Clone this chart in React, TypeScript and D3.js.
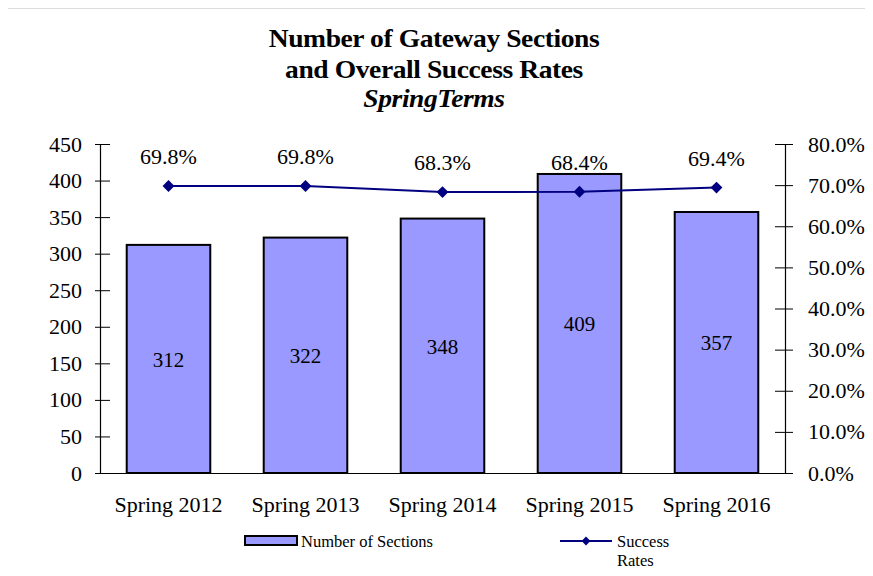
import { useEffect, useRef } from 'react';
import * as d3 from 'd3';

const terms = ['Spring 2012', 'Spring 2013', 'Spring 2014', 'Spring 2015', 'Spring 2016'];
const sections = [312, 322, 348, 409, 357];
const successRates = [69.8, 69.8, 68.3, 68.4, 69.4];
const leftTicks = [0, 50, 100, 150, 200, 250, 300, 350, 400, 450];
const rightTicks = [0, 10, 20, 30, 40, 50, 60, 70, 80];

const FONT = '"Liberation Serif", "Times New Roman", serif';

export default function App() {
  const svgRef = useRef<SVGSVGElement>(null);

  useEffect(() => {
    const width = 873;
    const height = 576;
    const svg = d3.select(svgRef.current);
    svg.selectAll('*').remove();
    svg.attr('width', width).attr('height', height);

    const left = 100, right = 785, top = 144, bottom = 473;

    // top rule
    svg.append('line')
      .attr('x1', 0).attr('x2', width).attr('y1', 8).attr('y2', 8)
      .attr('stroke', '#d0d0d0').attr('stroke-width', 1.5);

    // title
    const titles = [
      { t: 'Number of Gateway Sections', y: 47, italic: false },
      { t: 'and Overall Success Rates', y: 78, italic: false },
      { t: 'SpringTerms', y: 107, italic: true },
    ];
    titles.forEach(d => {
      svg.append('text')
        .attr('transform', `translate(434,${d.y}) scale(1.06,1)`)
        .attr('text-anchor', 'middle')
        .attr('font-family', FONT)
        .attr('font-size', 26)
        .attr('font-weight', 'bold')
        .attr('font-style', d.italic ? 'italic' : 'normal')
        .attr('letter-spacing', -0.4)
        .text(d.t);
    });

    const x = d3.scaleBand().domain(terms).range([left, right]).paddingInner(0.39).paddingOuter(0.195);
    const yL = d3.scaleLinear().domain([0, 450]).range([bottom, top]);
    const yR = d3.scaleLinear().domain([0, 80]).range([bottom, top]);

    // bars
    svg.append('g').selectAll('rect')
      .data(sections)
      .join('rect')
      .attr('x', (d, i) => x(terms[i])!)
      .attr('y', d => yL(d))
      .attr('width', x.bandwidth())
      .attr('height', d => bottom - yL(d))
      .attr('fill', '#9999ff')
      .attr('stroke', '#000')
      .attr('stroke-width', 2);

    // bar labels
    svg.append('g').selectAll('text')
      .data(sections)
      .join('text')
      .attr('x', (d, i) => x(terms[i])! + x.bandwidth() / 2)
      .attr('y', d => (yL(d) + bottom) / 2 + 8)
      .attr('text-anchor', 'middle')
      .attr('font-family', FONT)
      .attr('font-size', 21)
      .text(d => d);

    // left axis
    const leftAxis = svg.append('g').attr('transform', `translate(${left},0)`)
      .call(d3.axisLeft(yL).tickValues(leftTicks).tickSizeInner(0).tickSizeOuter(0).tickPadding(18));
    leftAxis.select('.domain').attr('stroke', '#000').attr('stroke-width', 1.2);
    leftAxis.selectAll('.tick line').attr('x1', -5).attr('x2', 10).attr('stroke', '#000');
    leftAxis.selectAll('.tick text').attr('font-family', FONT).attr('font-size', 22).attr('fill', '#000');

    // right axis
    const rightAxis = svg.append('g').attr('transform', `translate(${right},0)`)
      .call(d3.axisRight(yR).tickValues(rightTicks).tickSizeInner(0).tickSizeOuter(0).tickPadding(23)
        .tickFormat(d => `${(+d).toFixed(1)}%`));
    rightAxis.select('.domain').attr('stroke', '#000').attr('stroke-width', 1.2);
    rightAxis.selectAll('.tick line').attr('x1', -10).attr('x2', 8).attr('stroke', '#000');
    rightAxis.selectAll('.tick text').attr('font-family', FONT).attr('font-size', 22).attr('fill', '#000');

    // bottom axis
    const bottomAxis = svg.append('g').attr('transform', `translate(0,${bottom})`)
      .call(d3.axisBottom(x).tickSize(0).tickPadding(23));
    bottomAxis.select('.domain').attr('stroke', '#000').attr('stroke-width', 1.2);
    bottomAxis.selectAll('.tick text').attr('font-family', FONT).attr('font-size', 22).attr('fill', '#000');

    // success rate line
    const cx = (i: number) => x(terms[i])! + x.bandwidth() / 2;
    const line = d3.line<number>().x((d, i) => cx(i)).y(d => yR(d));
    svg.append('path')
      .datum(successRates)
      .attr('fill', 'none')
      .attr('stroke', '#000080')
      .attr('stroke-width', 2)
      .attr('d', line);

    const diamond = d3.symbol().type(d3.symbolDiamond2).size(90);
    svg.append('g').selectAll('path')
      .data(successRates)
      .join('path')
      .attr('transform', (d, i) => `translate(${cx(i)},${yR(d)})`)
      .attr('d', diamond)
      .attr('fill', '#000080');

    svg.append('g').selectAll('text')
      .data(successRates)
      .join('text')
      .attr('x', (d, i) => cx(i))
      .attr('y', d => yR(d) - 22)
      .attr('text-anchor', 'middle')
      .attr('font-family', FONT)
      .attr('font-size', 22)
      .text(d => `${d.toFixed(1)}%`);

    // legend
    const lg = svg.append('g');
    lg.append('rect')
      .attr('x', 245).attr('y', 536).attr('width', 52).attr('height', 9)
      .attr('fill', '#9999ff').attr('stroke', '#000').attr('stroke-width', 2);
    lg.append('text')
      .attr('x', 301).attr('y', 547)
      .attr('font-family', FONT).attr('font-size', 16.5)
      .text('Number of  Sections');
    lg.append('line')
      .attr('x1', 560).attr('x2', 612).attr('y1', 541).attr('y2', 541)
      .attr('stroke', '#000080').attr('stroke-width', 2);
    lg.append('path')
      .attr('transform', 'translate(586,541)')
      .attr('d', d3.symbol().type(d3.symbolDiamond2).size(50))
      .attr('fill', '#000080');
    lg.append('text')
      .attr('x', 617).attr('y', 547)
      .attr('font-family', FONT).attr('font-size', 16.5)
      .text('Success');
    lg.append('text')
      .attr('x', 617).attr('y', 566)
      .attr('font-family', FONT).attr('font-size', 16.5)
      .text('Rates');
  }, []);

  return (
    <div style={{ margin: -8 }}>
      <svg ref={svgRef} style={{ display: 'block', background: '#fff' }}></svg>
    </div>
  );
}
